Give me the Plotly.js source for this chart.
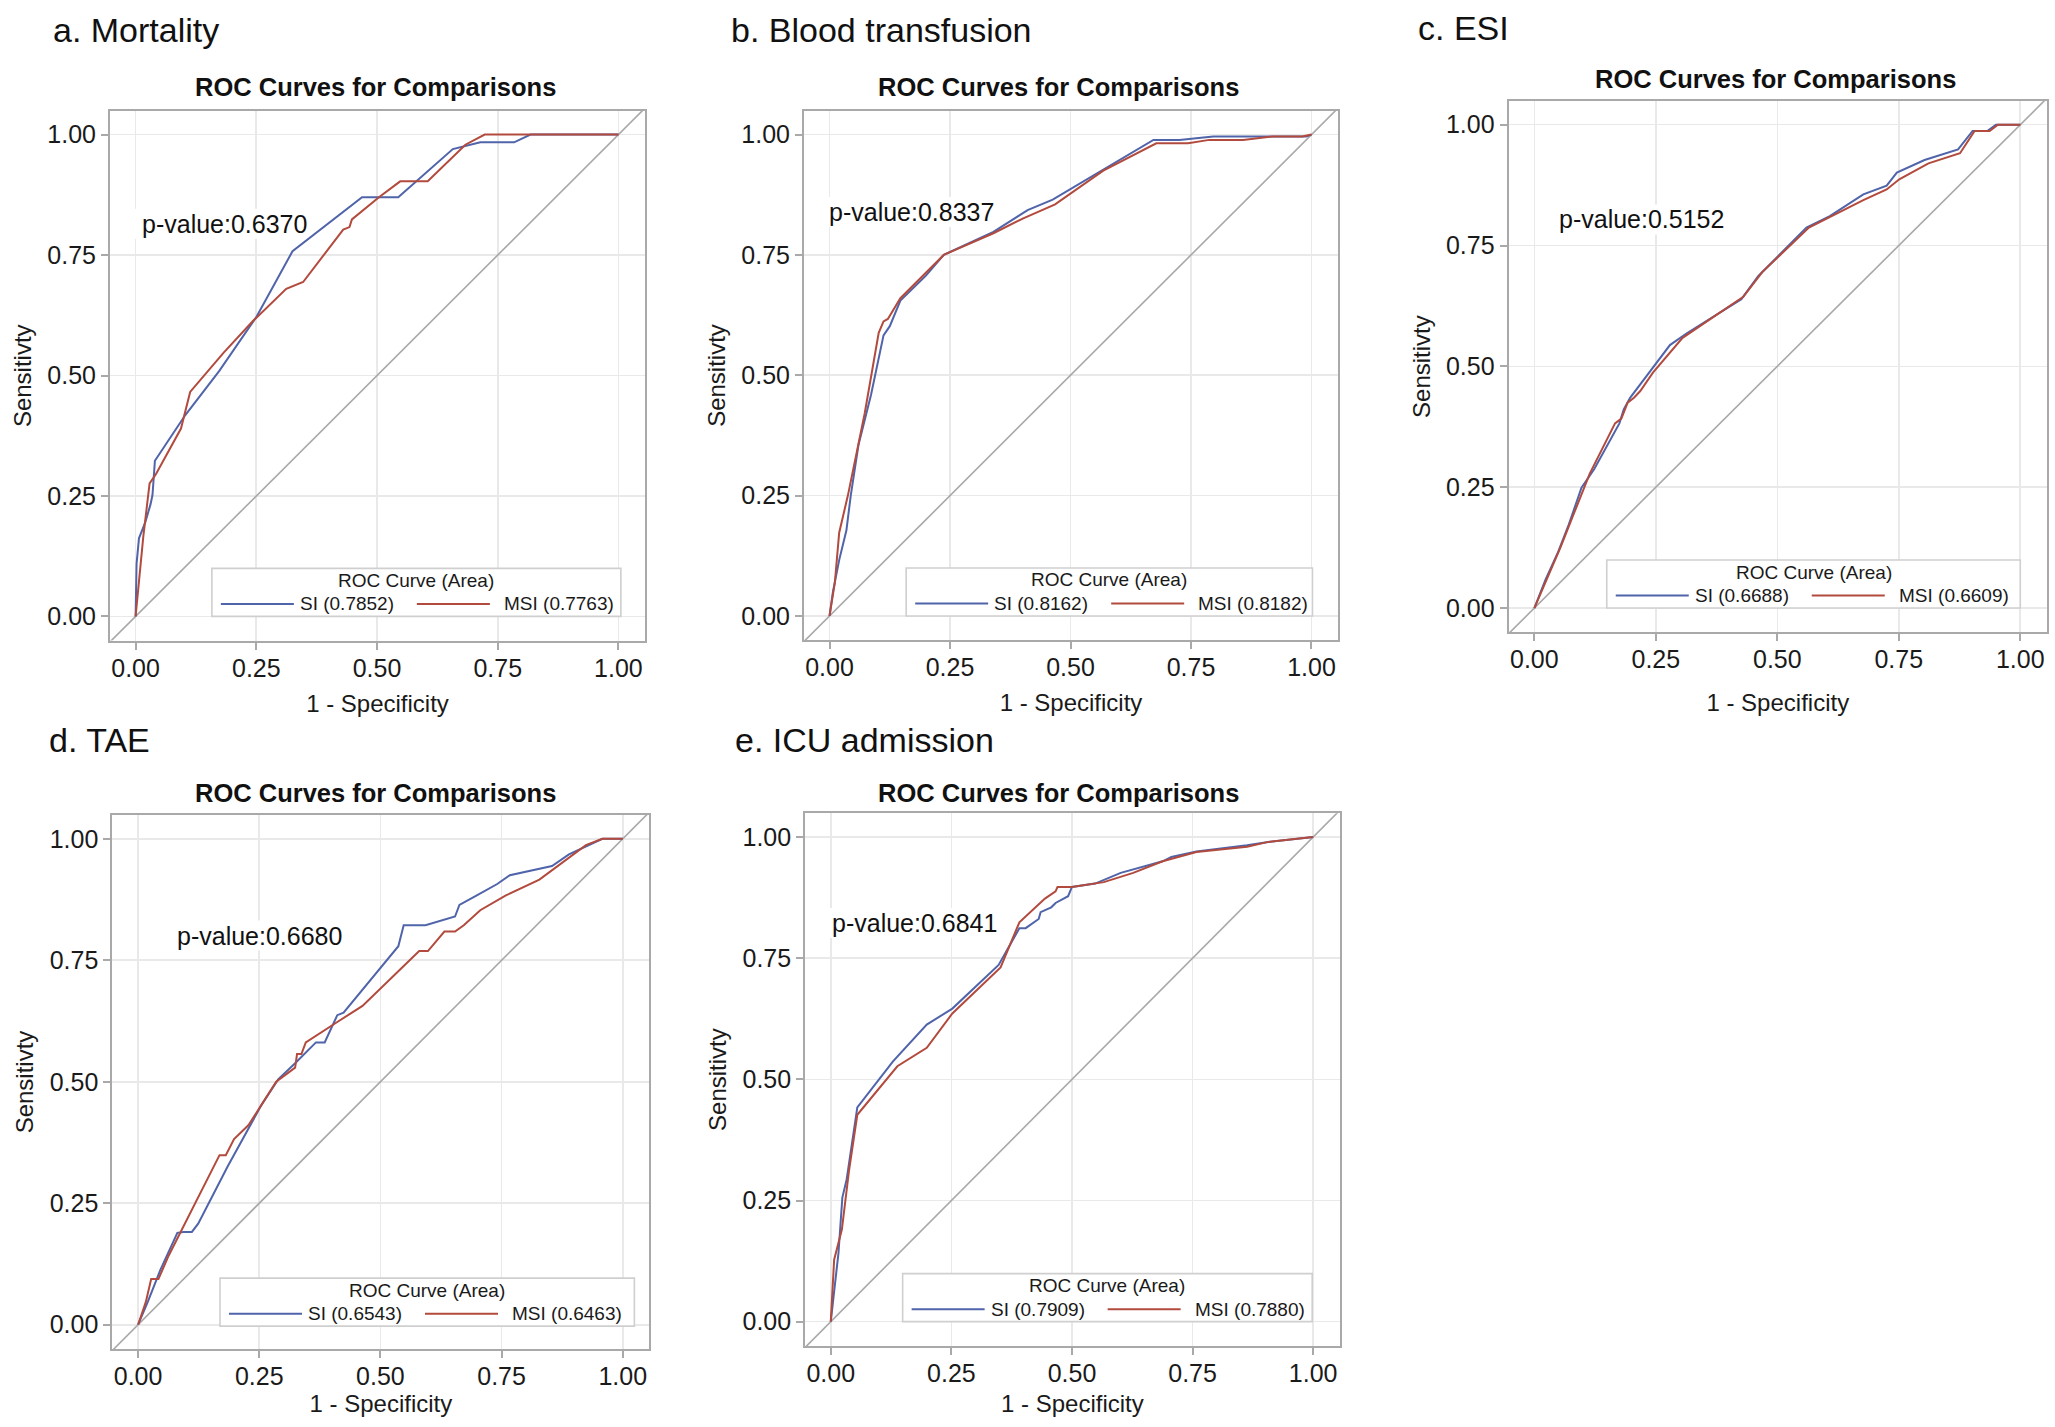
<!DOCTYPE html>
<html><head><meta charset="utf-8">
<script src="https://cdn.plot.ly/plotly-3.0.1.min.js"></script>
<style>html,body{margin:0;padding:0;background:#fff}</style>
</head><body><div id="chart" style="width:2055px;height:1427px"></div>
<script>
// ---------- data ----------
const panelLabels = ["a. Mortality", "b. Blood transfusion", "c. ESI", "d. TAE", "e. ICU admission"];
const plotTitle = "ROC Curves for Comparisons";
const pValues = ["0.6370", "0.8337", "0.5152", "0.6680", "0.6841"];
const seriesNames = ["SI", "MSI"];
const aucSI = ["0.7852", "0.8162", "0.6688", "0.6543", "0.7909"];
const aucMSI = ["0.7763", "0.8182", "0.6609", "0.6463", "0.7880"];
const tickVals = [0, 0.25, 0.5, 0.75, 1];
const tickText = ["0.00", "0.25", "0.50", "0.75", "1.00"];
const xTitle = "1 - Specificity";
const yTitle = "Sensitivty";
const legendTitle = "ROC Curve (Area)";

const mortSI_x = [0,0.002,0.007,0.02,0.031,0.035,0.040,0.103,0.173,0.251,0.325,0.469,0.544,0.657,0.714,0.784,0.818,1];
const mortSI_y = [0,0.109,0.162,0.195,0.233,0.252,0.323,0.418,0.509,0.623,0.758,0.870,0.870,0.970,0.984,0.984,1,1];
const mortMSI_x = [0,0.007,0.016,0.029,0.042,0.094,0.113,0.182,0.243,0.312,0.347,0.430,0.443,0.448,0.504,0.548,0.605,0.683,0.723,1];
const mortMSI_y = [0,0.071,0.166,0.276,0.295,0.390,0.466,0.547,0.613,0.680,0.694,0.803,0.808,0.824,0.870,0.903,0.903,0.979,1,1];

const bloodSI_x = [0,0.007,0.020,0.035,0.044,0.060,0.086,0.112,0.125,0.147,0.2,0.237,0.340,0.411,0.463,0.568,0.672,0.726,0.796,0.911,0.989,1];
const bloodSI_y = [0,0.050,0.116,0.178,0.250,0.355,0.459,0.583,0.602,0.655,0.707,0.750,0.798,0.843,0.865,0.927,0.989,0.989,0.996,0.996,0.996,1];
const bloodMSI_x = [0,0.011,0.020,0.038,0.073,0.102,0.112,0.121,0.147,0.237,0.340,0.402,0.468,0.568,0.678,0.744,0.788,0.858,0.919,0.981,1];
const bloodMSI_y = [0,0.069,0.173,0.250,0.421,0.588,0.612,0.617,0.660,0.750,0.795,0.826,0.855,0.925,0.982,0.982,0.989,0.989,0.996,0.996,1];

const esiSI_x = [0,0.023,0.049,0.062,0.071,0.097,0.123,0.175,0.184,0.197,0.279,0.313,0.426,0.461,0.560,0.608,0.677,0.725,0.746,0.803,0.872,0.902,0.932,0.950,1];
const esiSI_y = [0,0.059,0.116,0.149,0.173,0.249,0.287,0.382,0.411,0.435,0.544,0.568,0.639,0.687,0.787,0.811,0.856,0.874,0.901,0.927,0.949,0.987,0.987,1,1];
const esiMSI_x = [0,0.023,0.054,0.080,0.114,0.166,0.179,0.192,0.205,0.218,0.244,0.305,0.430,0.469,0.565,0.677,0.725,0.751,0.811,0.876,0.906,0.937,0.954,1];
const esiMSI_y = [0,0.054,0.126,0.192,0.278,0.382,0.392,0.425,0.435,0.449,0.487,0.559,0.644,0.695,0.787,0.844,0.866,0.887,0.920,0.941,0.987,0.987,1,1];

const taeSI_x = [0,0.020,0.046,0.081,0.094,0.111,0.124,0.185,0.255,0.289,0.324,0.367,0.385,0.411,0.424,0.537,0.548,0.593,0.654,0.663,0.698,0.741,0.767,0.854,0.889,0.932,0.958,1];
const taeSI_y = [0,0.047,0.113,0.189,0.191,0.191,0.208,0.326,0.453,0.505,0.538,0.581,0.581,0.637,0.642,0.779,0.822,0.822,0.840,0.864,0.883,0.907,0.925,0.944,0.968,0.987,1,1];
const taeMSI_x = [0,0.016,0.027,0.042,0.063,0.089,0.159,0.168,0.181,0.198,0.228,0.285,0.324,0.328,0.337,0.346,0.411,0.463,0.580,0.598,0.632,0.654,0.672,0.706,0.758,0.828,0.924,0.958,1];
const taeMSI_y = [0,0.047,0.094,0.094,0.142,0.194,0.331,0.349,0.349,0.382,0.411,0.500,0.529,0.557,0.557,0.581,0.623,0.656,0.769,0.769,0.809,0.809,0.822,0.853,0.883,0.916,0.987,1,1];

const icuSI_x = [0,0.007,0.016,0.024,0.033,0.055,0.129,0.199,0.252,0.348,0.391,0.404,0.431,0.435,0.457,0.466,0.492,0.500,0.548,0.601,0.688,0.706,0.758,0.863,0.907,1];
const icuSI_y = [0,0.057,0.142,0.256,0.294,0.442,0.537,0.613,0.646,0.736,0.812,0.812,0.831,0.845,0.855,0.864,0.878,0.897,0.904,0.926,0.950,0.959,0.970,0.983,0.990,1];
const icuMSI_x = [0,0.007,0.023,0.038,0.055,0.138,0.199,0.252,0.352,0.391,0.444,0.466,0.470,0.500,0.566,0.627,0.688,0.758,0.863,0.907,1];
const icuMSI_y = [0,0.128,0.190,0.313,0.427,0.527,0.565,0.636,0.731,0.824,0.873,0.888,0.897,0.897,0.907,0.926,0.950,0.969,0.980,0.990,1];

const refLine = [-0.06, 1.06];

// ---------- layout config ----------
const W = 2055, H = 1427;
const FONT = "Arial, 'Liberation Sans', Helvetica, sans-serif";
const BLUE = "#5064aa", RED = "#b24a3e";
const xRange = [-0.053, 1.055], yRange = [-0.05, 1.049];
// plot frames in px: [left, right, top, bottom]
const boxes = [
  [110, 645, 111, 640.5],
  [804, 1338, 111, 640],
  [1508.6, 2047, 101, 632.2],
  [112.4, 649.4, 815, 1349],
  [805.2, 1339.7, 813.3, 1345.9]
];
const labelPos = [[51, 30], [729, 30], [1416, 28.5], [47, 740], [733, 740]];
const titlePos = [[375, 87], [1058, 87], [1775, 79.4], [375, 792.6], [1058, 792.6]];
const xTitleStandoff = [14.5, 14.5, 22, 6, 9];
const pvalPos = [[0.009, 0.815], [-0.005, 0.839], [0.047, 0.804], [0.077, 0.801], [-0.002, 0.8225]];
const legLeft = [0.158, 0.159, 0.149, 0.169, 0.149];
const legRight = [1.005, 1.002, 1.0, 1.024, 0.998];
const legBottom = [0, 0, 0, -0.003, 0];

const series = [
  [mortSI_x, mortSI_y, mortMSI_x, mortMSI_y],
  [bloodSI_x, bloodSI_y, bloodMSI_x, bloodMSI_y],
  [esiSI_x, esiSI_y, esiMSI_x, esiMSI_y],
  [taeSI_x, taeSI_y, taeMSI_x, taeMSI_y],
  [icuSI_x, icuSI_y, icuMSI_x, icuMSI_y]
];

const traces = [];
const layout = {
  width: W, height: H,
  margin: {l: 0, r: 0, t: 0, b: 0},
  paper_bgcolor: "#fff", plot_bgcolor: "#fff",
  showlegend: false,
  font: {family: FONT, color: "#1a1a1a"},
  annotations: [], shapes: []
};

for (let i = 0; i < 5; i++) {
  const sfx = i === 0 ? "" : String(i + 1);
  const xa = "x" + sfx, ya = "y" + sfx;
  const b = boxes[i];
  const pxX = (b[1] - b[0]) / (xRange[1] - xRange[0]);
  const pxY = (b[3] - b[2]) / (yRange[1] - yRange[0]);
  const axBase = {
    showgrid: true, gridcolor: "#e9e9e9", gridwidth: 1.6,
    zeroline: false, showline: true, mirror: true, linecolor: "#a9a9a9", linewidth: 2,
    ticks: "outside", ticklen: 7, tickwidth: 2, tickcolor: "#a9a9a9",
    tickvals: tickVals, ticktext: tickText,
    tickfont: {family: FONT, size: 25, color: "#1a1a1a"},
    fixedrange: true
  };
  layout["xaxis" + sfx] = Object.assign({}, axBase, {
    range: xRange, anchor: ya,
    domain: [b[0] / W, b[1] / W],
    ticklabelstandoff: -3,
    title: {text: xTitle, font: {family: FONT, size: 24, color: "#1a1a1a"}, standoff: xTitleStandoff[i]}
  });
  layout["yaxis" + sfx] = Object.assign({}, axBase, {
    range: yRange, anchor: xa,
    domain: [1 - b[3] / H, 1 - b[2] / H],
    ticklabelstandoff: 2.5,
    title: {text: yTitle, font: {family: FONT, size: 24, color: "#1a1a1a"}, standoff: 9}
  });

  // reference diagonal
  traces.push({x: refLine, y: refLine, xaxis: xa, yaxis: ya, mode: "lines",
    line: {color: "#a8a8a8", width: 1.6}, hoverinfo: "skip"});
  const s = series[i];
  traces.push({x: s[0], y: s[1], xaxis: xa, yaxis: ya, mode: "lines", name: seriesNames[0],
    line: {color: BLUE, width: 2}});
  traces.push({x: s[2], y: s[3], xaxis: xa, yaxis: ya, mode: "lines", name: seriesNames[1],
    line: {color: RED, width: 2}});

  // panel label
  layout.annotations.push({text: panelLabels[i], xref: "paper", yref: "paper",
    x: labelPos[i][0] / W, y: 1 - labelPos[i][1] / H, xanchor: "left", yanchor: "middle",
    showarrow: false, font: {family: FONT, size: 34, color: "#111"}});
  // subplot title
  layout.annotations.push({text: "<b>" + plotTitle + "</b>", xref: "paper", yref: "paper",
    x: titlePos[i][0] / W, y: 1 - titlePos[i][1] / H, xanchor: "center", yanchor: "middle",
    showarrow: false, font: {family: FONT, size: 25.5, color: "#111"}});
  // p-value with white patch that hides gridlines (below curves)
  const pv = pvalPos[i];
  layout.shapes.push({type: "rect", xref: xa, yref: ya,
    x0: pv[0] - 7 / pxX, x1: pv[0] + 172 / pxX, y0: pv[1] - 15 / pxY, y1: pv[1] + 15 / pxY,
    line: {width: 0}, fillcolor: "#fff", layer: "between"});
  layout.annotations.push({text: "p-value:" + pValues[i], xref: xa, yref: ya,
    x: pv[0], y: pv[1], xanchor: "left", yanchor: "middle",
    showarrow: false, font: {family: FONT, size: 25, color: "#111"}});

  // custom legend box
  const L = legLeft[i], R = legRight[i], B0 = legBottom[i];
  const T = B0 + 48 / pxY;
  layout.shapes.push({type: "rect", xref: xa, yref: ya, x0: L, x1: R, y0: B0, y1: T,
    line: {color: "#cfcfcf", width: 1.6}, fillcolor: "#fff", layer: "between"});
  layout.annotations.push({text: legendTitle, xref: xa, yref: ya,
    x: (L + R) / 2, y: T - 12 / pxY, xanchor: "center", yanchor: "middle", showarrow: false,
    font: {family: FONT, size: 19, color: "#1a1a1a"}});
  const itemY = B0 + 12.5 / pxY;
  layout.shapes.push({type: "line", xref: xa, yref: ya, x0: L + 9 / pxX, x1: L + 82 / pxX,
    y0: itemY, y1: itemY, line: {color: BLUE, width: 2}});
  layout.annotations.push({text: seriesNames[0] + " (" + aucSI[i] + ")", xref: xa, yref: ya,
    x: L + 86 / pxX, y: itemY, xanchor: "left", yanchor: "middle", showarrow: false,
    font: {family: FONT, size: 19, color: "#1a1a1a"}});
  layout.shapes.push({type: "line", xref: xa, yref: ya, x0: L + 205 / pxX, x1: L + 278 / pxX,
    y0: itemY, y1: itemY, line: {color: RED, width: 2}});
  layout.annotations.push({text: seriesNames[1] + " (" + aucMSI[i] + ")", xref: xa, yref: ya,
    x: L + 290 / pxX, y: itemY, xanchor: "left", yanchor: "middle", showarrow: false,
    font: {family: FONT, size: 19, color: "#1a1a1a"}});
}

Plotly.newPlot("chart", traces, layout, {staticPlot: true, displayModeBar: false});
</script>
</body></html>
